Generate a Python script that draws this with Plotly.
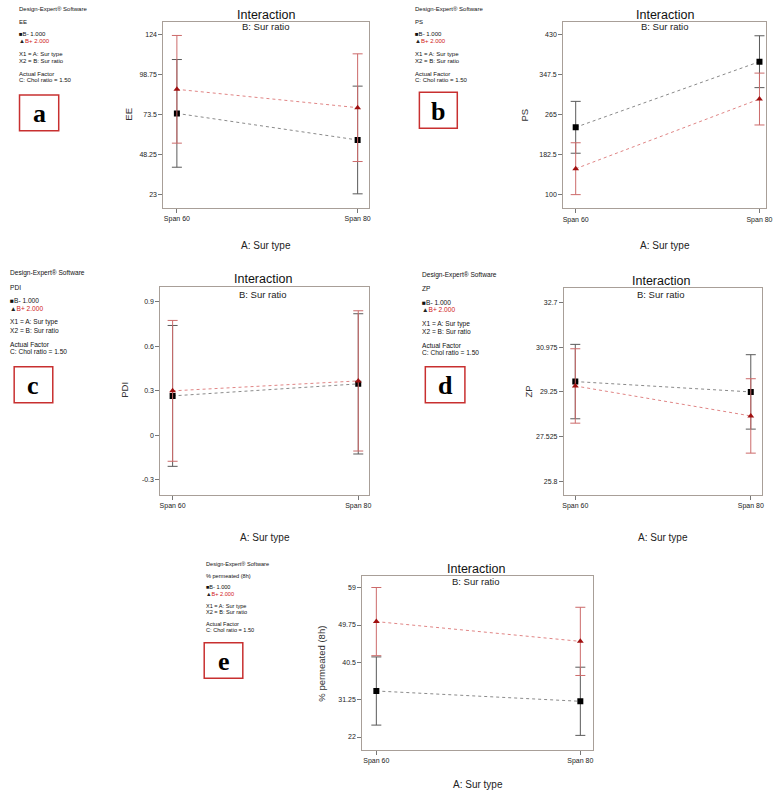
import plotly.graph_objects as go

W, H = 781, 794

# ---- data ----
sur_type = ["Span 60", "Span 80"]

ee_b_minus = [74.1, 57.3]
ee_b_plus = [89.3, 77.7]
ee_lsd = [34.0, 34.0]
ee_ticks = [23, 48.25, 73.5, 98.75, 124]

ps_b_minus = [238.2, 373.5]
ps_b_plus = [152.8, 296.5]
ps_lsd = [53.5, 53.5]
ps_ticks = [100, 182.5, 265, 347.5, 430]

pdi_b_minus = [0.266, 0.347]
pdi_b_plus = [0.300, 0.367]
pdi_lsd = [0.474, 0.472]
pdi_ticks = [-0.3, 0, 0.3, 0.6, 0.9]

zp_b_minus = [29.65, 29.25]
zp_b_plus = [29.48, 28.32]
zp_lsd = [1.44, 1.44]
zp_ticks = [25.8, 27.525, 29.25, 30.975, 32.7]

perm_b_minus = [33.4, 30.85]
perm_b_plus = [50.6, 45.7]
perm_lsd = [8.45, 8.45]
perm_ticks = [22, 31.25, 40.5, 49.75, 59]


def X(px):
    return px / W


def Y(py):
    return 1 - py / H


FONT = "Liberation Sans, Arial, sans-serif"
FRAME = "#a89f98"

# panel layout: plot box in px, axis ranges, text positions
panels = [
    dict(resp="EE", bm=ee_b_minus, bp=ee_b_plus, lsd=ee_lsd, ticks=ee_ticks,
         ticktext=["23", "48.25", "73.5", "98.75", "124"],
         box=(163, 22, 371, 208), yr=[14.35, 131.8], xr=[-0.075, 1.064],
         ytitle=(127, 114), title_x=267, title_y=14.7, sub_y=26, xt_y=245,
         txt=(15, 9.3, 1.0), label="a", lbox=(17.7, 95, 57.3, 130.7)),
    dict(resp="PS", bm=ps_b_minus, bp=ps_b_plus, lsd=ps_lsd, ticks=ps_ticks,
         ticktext=["100", "182.5", "265", "347.5", "430"],
         box=(567, 22, 772, 208.3), yr=[71.1, 455.4], xr=[-0.068, 1.036],
         ytitle=(528, 115), title_x=670, title_y=14.7, sub_y=26, xt_y=245,
         txt=(415, 9.3, 1.0), label="b", lbox=(421.7, 92.3, 460, 128.3)),
    dict(resp="PDI", bm=pdi_b_minus, bp=pdi_b_plus, lsd=pdi_lsd, ticks=pdi_ticks,
         ticktext=["-0.3", "0", "0.3", "0.6", "0.9"],
         box=(160, 286.7, 371, 495), yr=[-0.401, 1.001], xr=[-0.066, 1.059],
         ytitle=(123, 390), title_x=264, title_y=279.3, sub_y=293, xt_y=537,
         txt=(6, 273.3, 1.1), label="c", lbox=(12.3, 366.7, 51.3, 402.7)),
    dict(resp="ZP", bm=zp_b_minus, bp=zp_b_plus, lsd=zp_lsd, ticks=zp_ticks,
         ticktext=["25.8", "27.525", "29.25", "30.975", "32.7"],
         box=(567.7, 288.3, 767.7, 495), yr=[25.26, 33.26], xr=[-0.065, 1.063],
         ytitle=(531, 392), title_x=666, title_y=280.7, sub_y=293.7, xt_y=537,
         txt=(422.3, 274.7, 1.1), label="d", lbox=(427.7, 366.7, 467.7, 402.7)),
    dict(resp="% permeated (8h)", bm=perm_b_minus, bp=perm_b_plus, lsd=perm_lsd,
         ticks=perm_ticks, ticktext=["22", "31.25", "40.5", "49.75", "59"],
         box=(364, 576, 597.3, 750), yr=[18.78, 61.9], xr=[-0.069, 1.063],
         ytitle=(322, 664), title_x=479, title_y=569, sub_y=580.3, xt_y=784,
         txt=(204.3, 564, 0.93), label="e", lbox=(204.3, 642.7, 243.3, 678.3)),
]

fig = go.Figure()
layout = dict(width=W, height=H, margin=dict(l=0, r=0, t=0, b=0),
              paper_bgcolor="white", plot_bgcolor="white", showlegend=False)
annotations = []
shapes = []

for i, p in enumerate(panels):
    n = "" if i == 0 else str(i + 1)
    xa, ya = "x" + n, "y" + n
    x0, y0, x1, y1 = p["box"]

    fig.add_trace(go.Scatter(
        x=sur_type, y=p["bm"], xaxis=xa, yaxis=ya, mode="lines+markers",
        line=dict(color="#8a8a8a", width=1, dash="dot"),
        marker=dict(symbol="square", size=6, color="black"),
        error_y=dict(type="data", array=p["lsd"], color="#5a5a5a",
                     thickness=1, width=5)))
    fig.add_trace(go.Scatter(
        x=sur_type, y=p["bp"], xaxis=xa, yaxis=ya, mode="lines+markers",
        line=dict(color="#e08585", width=1, dash="dot"),
        marker=dict(symbol="triangle-up", size=6, color="#a01010"),
        error_y=dict(type="data", array=p["lsd"], color="#cc6a6a",
                     thickness=1, width=5)))

    layout["xaxis" + n] = dict(
        domain=[X(x0), X(x1)], range=p["xr"], anchor=ya, type="category",
        showline=True, mirror=True, linecolor=FRAME, linewidth=1,
        ticks="outside", ticklen=4, tickcolor="#777", showgrid=False,
        zeroline=False, tickfont=dict(family=FONT, size=7, color="#222"))
    layout["yaxis" + n] = dict(
        domain=[Y(y1), Y(y0)], range=p["yr"], anchor=xa,
        showline=True, mirror=True, linecolor=FRAME, linewidth=1,
        ticks="outside", ticklen=4, tickcolor="#777", showgrid=False,
        zeroline=False, tickvals=p["ticks"], ticktext=p["ticktext"],
        tickfont=dict(family=FONT, size=7, color="#222"))

    cx = (x0 + x1) / 2
    annotations += [
        dict(text="Interaction", x=X(p["title_x"]), y=Y(p["title_y"]),
             font=dict(family=FONT, size=12.5, color="#111")),
        dict(text="B: Sur ratio", x=X(p["title_x"]), y=Y(p["sub_y"] + 1),
             font=dict(family=FONT, size=9.5, color="#222")),
        dict(text="A: Sur type", x=X(cx), y=Y(p["xt_y"]),
             font=dict(family=FONT, size=10, color="#222")),
        dict(text=p["resp"], x=X(p["ytitle"][0]), y=Y(p["ytitle"][1]),
             textangle=-90, font=dict(family=FONT, size=9.5, color="#333")),
    ]

    # left info block
    tx, ty, s = p["txt"]
    lines = [
        (0, "Design-Expert® Software", "#111"),
        (13, p["resp"], "#111"),
        (25, "■B- 1.000", "#111"),
        (32, "<span style='color:#222'>▲</span>B+ 2.000", "#d02020"),
        (44.7, "X1 = A: Sur type", "#111"),
        (51.7, "X2 = B: Sur ratio", "#111"),
        (64.7, "Actual Factor", "#111"),
        (71, "C: Chol ratio = 1.50", "#111"),
    ]
    for dy, t, c in lines:
        annotations.append(dict(
            text=t, x=X(tx), y=Y(ty + dy * s), xanchor="left",
            font=dict(family=FONT, size=6 * s, color=c)))

    lx0, ly0, lx1, ly1 = p["lbox"]
    shapes.append(dict(type="rect", xref="paper", yref="paper",
                       x0=X(lx0), x1=X(lx1), y0=Y(ly1), y1=Y(ly0),
                       line=dict(color="#c83030", width=1.5)))
    annotations.append(dict(
        text="<b>%s</b>" % p["label"], x=X((lx0 + lx1) / 2),
        y=Y((ly0 + ly1) / 2 + 1),
        font=dict(family="Liberation Serif, Times New Roman, serif",
                  size=26, color="black")))

for a in annotations:
    a.setdefault("xref", "paper")
    a.setdefault("yref", "paper")
    a.setdefault("showarrow", False)
    a.setdefault("xanchor", "center")
    a.setdefault("yanchor", "middle")

layout["annotations"] = annotations
layout["shapes"] = shapes
fig.update_layout(**layout)

# page body has a default 8px margin; drop it so the figure fills the window
fig.write_html("out.html",
               config={"displayModeBar": False},
               post_script="document.body.style.margin='0';"
                           "document.body.style.overflow='hidden';")
